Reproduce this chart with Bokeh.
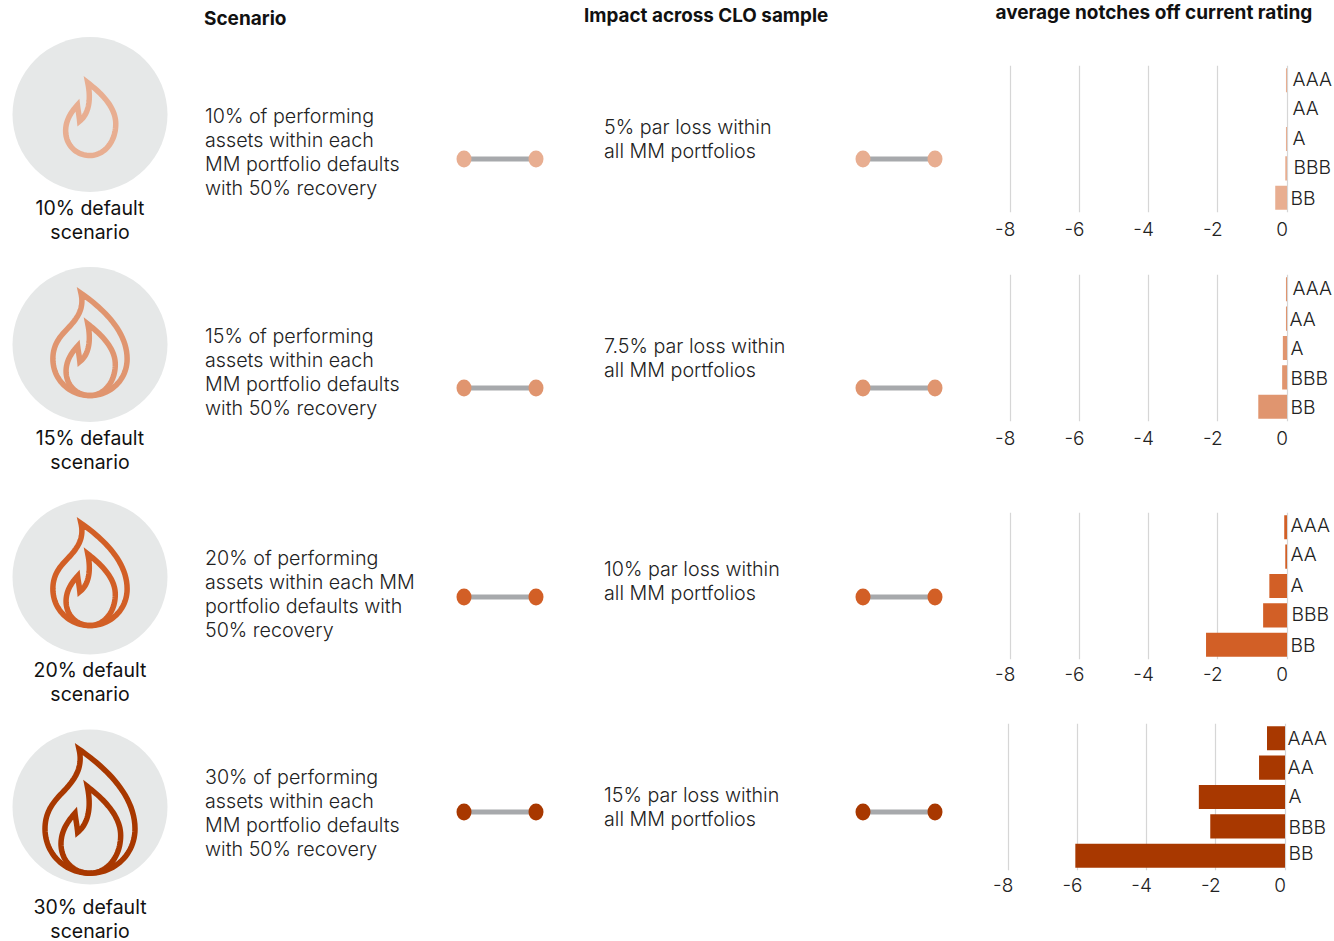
from bokeh.core.properties import value
from bokeh.embed import file_html
from bokeh.layouts import column, row
from bokeh.models import ColumnDataSource, FactorRange, FixedTicker, LinearAxis, Range1d
from bokeh.plotting import figure
from bokeh.resources import INLINE

BODY_FONT = "Inter Light"
HEAD_FONT = "Inter"
INK = "#222222"

# Rating categories, top to bottom
ratings = ["AAA", "AA", "A", "BBB", "BB"]
ticks = [-8, -6, -4, -2, 0]
tick_labels = {-8: "-8", -6: "-6", -4: "-4", -2: "-2", 0: "0"}

# Average notches off current rating per scenario
notches_10 = [-0.03, 0.0, -0.03, -0.05, -0.34]
notches_15 = [-0.03, -0.03, -0.12, -0.14, -0.83]
notches_20 = [-0.08, -0.05, -0.51, -0.69, -2.34]
notches_30 = [-0.52, -0.75, -2.49, -2.16, -6.06]

colors = ["#e8ae91", "#e0956f", "#d25f26", "#a83800"]
scenario_names = ["10% default", "15% default", "20% default", "30% default"]
scenario_text = [
    ["10% of performing", "assets within each", "MM portfolio defaults", "with 50% recovery"],
    ["15% of performing", "assets within each", "MM portfolio defaults", "with 50% recovery"],
    ["20% of performing", "assets within each MM", "portfolio defaults with", "50% recovery"],
    ["30% of performing", "assets within each", "MM portfolio defaults", "with 50% recovery"],
]
impact_text = [
    ["5% par loss within", "all MM portfolios"],
    ["7.5% par loss within", "all MM portfolios"],
    ["10% par loss within", "all MM portfolios"],
    ["15% par loss within", "all MM portfolios"],
]

# Vertical placement of each scenario block on the page
circle_y = [114, 344, 576.5, 806.5]
name_y = [207, 437, 669, 906.5]
scenario_y = [115, 335, 557, 776]
impact_y = [126, 345, 568, 794]
link_y = [158.5, 387.5, 596.5, 811.5]
flame_bottom = [155, 395, 625, 872.7]
flame_scale = [0.84, 0.825, 0.825, 1.0]

# Flame outlines as cubic segments: start point, then (c1, c2, end) triples
OUTER = [(237, 86),
         ((300, 130), (405, 215), (405, 325)),
         ((405, 400), (345, 458), (270, 458)),
         ((195, 458), (135, 400), (135, 325)),
         ((135, 265), (170, 235), (195, 208)),
         ((225, 175), (250, 140), (237, 86))]
INNER = [(262, 198),
         ((310, 235), (362, 285), (362, 345)),
         ((362, 410), (320, 458), (270, 458)),
         ((220, 458), (183, 420), (183, 370)),
         ((183, 330), (205, 300), (225, 278)),
         ((227, 295), (231, 315), (233, 335)),
         ((265, 310), (275, 260), (262, 198))]


def flame_path(segments, cx, bottom, scale):
    xs, ys = [], []
    p0 = segments[0]
    for c1, c2, p3 in segments[1:]:
        for i in range(24):
            t = i / 24
            a, b, c, d = (1 - t) ** 3, 3 * t * (1 - t) ** 2, 3 * t * t * (1 - t), t ** 3
            xs.append(a * p0[0] + b * c1[0] + c * c2[0] + d * p3[0])
            ys.append(a * p0[1] + b * c1[1] + c * c2[1] + d * p3[1])
        p0 = p3
    return ([cx + (x - 270) / 3 * scale for x in xs],
            [bottom + (y - 458) / 3 * scale for y in ys])


def bare(fig):
    fig.background_fill_color = "white"
    fig.border_fill_color = "white"
    fig.outline_line_color = None
    return fig


def put_text(fig, x, y, lines, size, font=BODY_FONT, align="left", color=INK, step=24):
    fig.text(x=[x] * len(lines), y=[y + i * step for i in range(len(lines))], text=lines,
             text_font=value(font), text_font_size=size, text_align=align,
             text_baseline="middle", text_color=color)


# Left part: icons, scenario descriptions and connectors
left = bare(figure(width=980, height=941, x_range=Range1d(0.5, 980.5), y_range=Range1d(941, 0),
                   output_backend="svg", toolbar_location=None, min_border=0,
                   x_axis_location=None, y_axis_location=None))
left.grid.visible = False

put_text(left, 204, 18, ["Scenario"], "19px", font=HEAD_FONT, color="#111111")
left.renderers[-1].glyph.text_font_style = "bold"
put_text(left, 584, 15, ["Impact across CLO sample"], "18.85px", font=HEAD_FONT, color="#111111")
left.renderers[-1].glyph.text_font_style = "bold"

for i, col in enumerate(colors):
    left.ellipse(x=[90], y=[circle_y[i]], width=155, height=155, fill_color="#e6e8e8", line_color=None)
    paths = [INNER] if i == 0 else [OUTER, INNER]
    for seg in paths:
        xs, ys = flame_path(seg, 90, flame_bottom[i], flame_scale[i])
        left.patch(xs, ys, fill_color=None, line_color=col, line_width=5.5, line_join="miter")
    put_text(left, 90, name_y[i], [scenario_names[i], "scenario"], "19.5px", font="Inter", align="center",
             color="#111111", step=23.5 if i == 3 else 24)
    put_text(left, 205, scenario_y[i], scenario_text[i], "19.7px")
    put_text(left, 604, impact_y[i], impact_text[i], "19.7px")
    for a, b in ((464, 536), (863, 935)):
        left.line([a, b], [link_y[i]] * 2, line_color="#a7a9ac", line_width=5)
        left.ellipse(x=[a, b], y=[link_y[i]] * 2, width=15, height=17, fill_color=col, line_color=None)

# Header above the rating panels
header = bare(figure(width=354, height=35, x_range=Range1d(980, 1334), y_range=Range1d(35, 0),
                     output_backend="svg", toolbar_location=None, min_border=0,
                     x_axis_location=None, y_axis_location=None))
header.grid.visible = False
put_text(header, 995, 12, ["average notches off current rating"], "19px", font=HEAD_FONT, color="#111111")
header.renderers[-1].glyph.text_font_style = "bold"

UNIT = 34.6


def rating_panel(values, color, zero_px, top, frame_top, frame_bottom, bottom, standoff, label_dx, label_dy):
    rng = Range1d((980 - zero_px) / UNIT, (1334 - zero_px) / UNIT)
    fig = bare(figure(width=354, height=bottom - top, x_range=rng,
                      y_range=FactorRange(factors=ratings[::-1], range_padding=0),
                      output_backend="svg", toolbar_location=None,
                      x_axis_location=None, y_axis_location=None,
                      min_border_left=0, min_border_right=0,
                      min_border_top=frame_top - top, min_border_bottom=bottom - frame_bottom))
    fig.ygrid.visible = False
    fig.xgrid.ticker = FixedTicker(ticks=ticks)
    fig.xgrid.grid_line_color = "#d6d6d6"
    fig.xgrid.grid_line_width = 1.2

    # The tick labels sit slightly left of their grid lines, so they get their own scale
    fig.extra_x_ranges["labels"] = Range1d((980 - (zero_px - 5)) / UNIT, (1334 - (zero_px - 5)) / UNIT)
    axis = LinearAxis(x_range_name="labels", ticker=FixedTicker(ticks=ticks),
                      major_label_overrides=tick_labels)
    axis.axis_line_color = None
    axis.major_tick_line_color = None
    axis.minor_tick_line_color = None
    axis.major_label_standoff = standoff
    axis.major_label_text_font = BODY_FONT
    axis.major_label_text_font_size = "19px"
    axis.major_label_text_color = INK
    fig.add_layout(axis, "below")

    fig.hbar(y=ratings, left=values, right=0, height=0.82, fill_color=color, line_color=None)
    src = ColumnDataSource(dict(x=[0] * 5, y=ratings, text=ratings, dx=label_dx, dy=label_dy))
    fig.text(x="x", y="y", text="text", x_offset="dx", y_offset="dy", source=src,
             text_font=value(BODY_FONT), text_font_size="19.3px", text_baseline="middle",
             text_color=INK)
    return fig


panels = [
    rating_panel(notches_10, colors[0], 1286.5, 35, 65, 212, 250, 3,
                 [5.5, 5.5, 5.5, 6.5, 3.5], [-1, -2, -1, -1, 0]),
    rating_panel(notches_15, colors[1], 1286.5, 250, 274, 421, 490, 3,
                 [5.5, 2.5, 3.5, 3.5, 3.5], [-1, 0, 0, 1, 0]),
    rating_panel(notches_20, colors[2], 1286.5, 490, 512, 659, 710, 1,
                 [3.5, 3.5, 3.5, 4.5, 3.5], [-2, -3, -1, -1, 0]),
    rating_panel(notches_30, colors[3], 1284.5, 710, 723, 870, 941, 1,
                 [2.5, 2.5, 3.5, 3.5, 3.5], [0, -1, -1, 1, -3]),
]

page = row(left, column(header, *panels, spacing=0), spacing=0)
open("out.html", "w").write(file_html(page, INLINE))
